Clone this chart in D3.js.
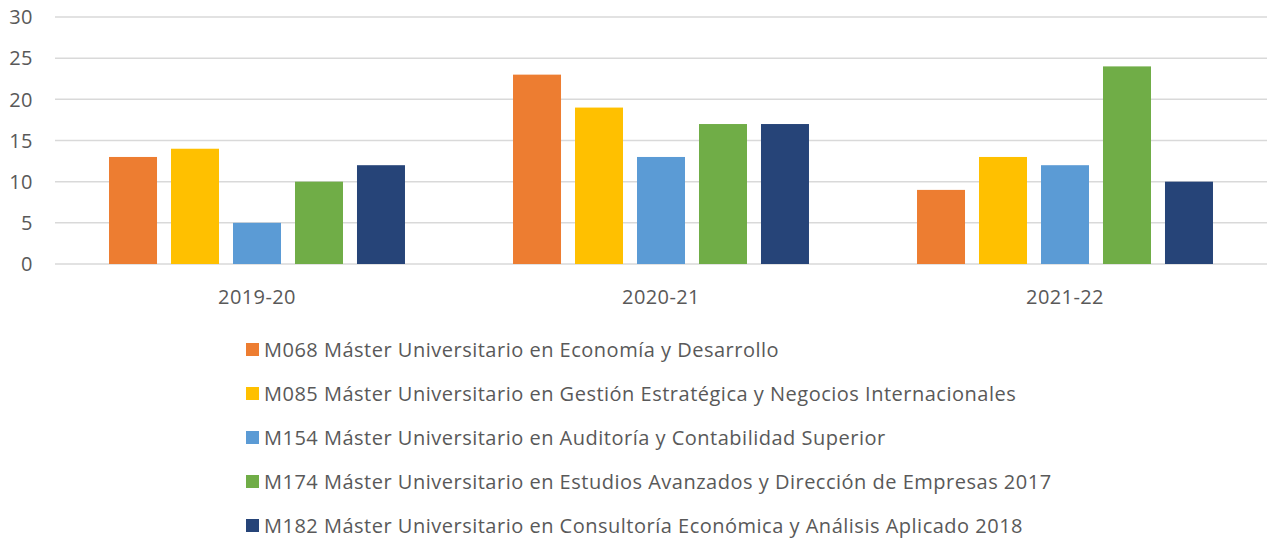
<!DOCTYPE html>
<html>
<head>
<meta charset="utf-8">
<script src="https://cdn.jsdelivr.net/npm/d3@7"></script>
<style>
  body { margin: 0; background: #fff; }
  text { font-family: "Open Sans", sans-serif; fill: #595959; }
</style>
</head>
<body>
<div id="vis1"></div>
<script>
// data
const CATEGORIES = ["2019-20", "2020-21", "2021-22"];
const SERIES = [
  "M068 Máster Universitario en Economía y Desarrollo",
  "M085 Máster Universitario en Gestión Estratégica y Negocios Internacionales",
  "M154 Máster Universitario en Auditoría y Contabilidad Superior",
  "M174 Máster Universitario en Estudios Avanzados y Dirección de Empresas 2017",
  "M182 Máster Universitario en Consultoría Económica y Análisis Aplicado 2018"
];
const M068 = [13, 23, 9];
const M085 = [14, 19, 13];
const M154 = [5, 13, 12];
const M174 = [10, 17, 24];
const M182 = [12, 17, 10];
const Y_TICKS = [0, 5, 10, 15, 20, 25, 30];
const COLORS = ["#ED7D31", "#FFC000", "#5B9BD5", "#70AD47", "#264478"];

const VALUES = [M068, M085, M154, M174, M182];

// frame
const FRAME_WIDTH = 1269;
const FRAME_HEIGHT = 541;
const PLOT = {left: 55, right: 1267, top: 17, bottom: 264};

const FRAME1 = d3.select("#vis1")
  .append("svg")
    .attr("width", FRAME_WIDTH)
    .attr("height", FRAME_HEIGHT);

// scales
const x0 = d3.scaleBand()
  .domain(CATEGORIES)
  .range([PLOT.left, PLOT.right])
  .padding(0);

const x1 = d3.scaleBand()
  .domain(d3.range(SERIES.length))
  .range([x0.bandwidth() * 0.1337, x0.bandwidth() * (1 - 0.1337)])
  .paddingInner(0.2258)
  .paddingOuter(0);

const y = d3.scaleLinear()
  .domain([0, 30])
  .range([PLOT.bottom, PLOT.top]);

const color = d3.scaleOrdinal().domain(d3.range(SERIES.length)).range(COLORS);

// gridlines
FRAME1.append("g")
  .selectAll("line")
  .data(Y_TICKS)
  .enter()
  .append("line")
    .attr("x1", PLOT.left)
    .attr("x2", PLOT.right)
    .attr("y1", d => y(d))
    .attr("y2", d => y(d))
    .attr("stroke", "#d9d9d9")
    .attr("stroke-width", 1.5);

// y tick labels
FRAME1.append("g")
  .selectAll("text")
  .data(Y_TICKS)
  .enter()
  .append("text")
    .attr("x", 33)
    .attr("y", d => y(d))
    .attr("dy", "0.36em")
    .attr("text-anchor", "end")
    .style("font-size", "20px")
    .style("letter-spacing", "0.5px")
    .text(d => d);

// bars
const groups = FRAME1.append("g")
  .selectAll("g")
  .data(CATEGORIES)
  .enter()
  .append("g")
    .attr("transform", d => "translate(" + x0(d) + ",0)");

groups.selectAll("rect")
  .data((d, i) => VALUES.map((vals, s) => ({s: s, v: vals[i]})))
  .enter()
  .append("rect")
    .attr("x", d => x1(d.s))
    .attr("y", d => y(d.v))
    .attr("width", x1.bandwidth())
    .attr("height", d => y(0) - y(d.v))
    .attr("fill", d => color(d.s));

// category labels
FRAME1.append("g")
  .selectAll("text")
  .data(CATEGORIES)
  .enter()
  .append("text")
    .attr("x", d => x0(d) + x0.bandwidth() / 2)
    .attr("y", 304)
    .attr("text-anchor", "middle")
    .style("font-size", "20px")
    .style("letter-spacing", "0.4px")
    .text(d => d);

// legend
const legend = FRAME1.append("g")
  .selectAll("g")
  .data(SERIES)
  .enter()
  .append("g")
    .attr("transform", (d, i) => "translate(246," + (357 + i * 44) + ")");

legend.append("rect")
  .attr("x", 0)
  .attr("y", -14)
  .attr("width", 13)
  .attr("height", 13)
  .attr("fill", (d, i) => color(i));

legend.append("text")
  .attr("x", 18)
  .attr("y", 0)
  .style("font-size", "20px")
  .style("letter-spacing", "0.5px")
  .text(d => d);
</script>
</body>
</html>
